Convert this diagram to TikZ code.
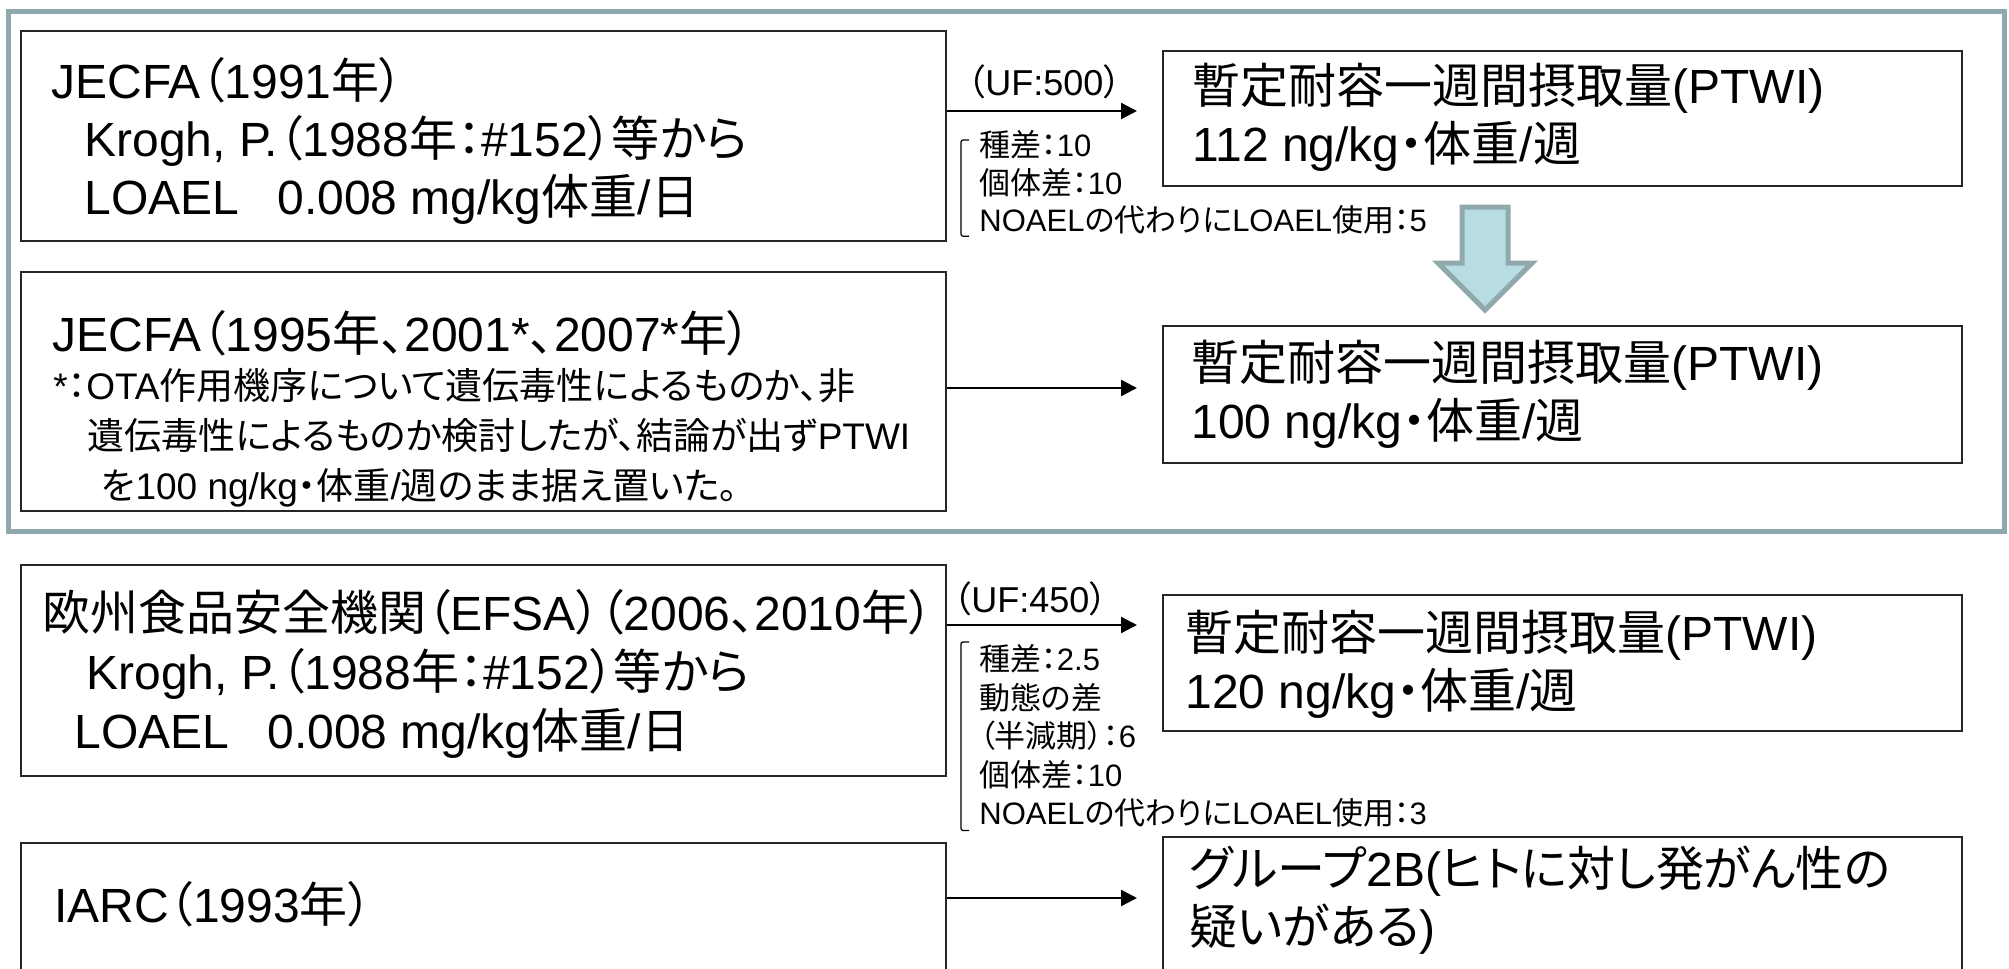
\documentclass[tikz,border=0pt]{standalone}
\usepackage{fontspec}
\setmainfont{Liberation Sans}
\newfontfamily\jpfont[RawFeature=+palt]{Noto Sans CJK JP}
% switch to the Japanese font for CJK characters
\XeTeXinterchartokenstate=1
\newXeTeXintercharclass\jpclass
\newcount\jpcode
\jpcode="3000
\loop\XeTeXcharclass\jpcode=\jpclass
\ifnum\jpcode<"9FFF \advance\jpcode by 1 \repeat
\jpcode="FF00
\loop\XeTeXcharclass\jpcode=\jpclass
\ifnum\jpcode<"FFEF \advance\jpcode by 1 \repeat
\XeTeXinterchartoks 0 \jpclass = {\jpfont}
\XeTeXinterchartoks 4095 \jpclass = {\jpfont}
\XeTeXinterchartoks \jpclass 0 = {\rmfamily}
\XeTeXinterchartoks \jpclass 4095 = {\rmfamily}
\usepackage{tikz}
\usetikzlibrary{arrows.meta,fit,positioning}
\definecolor{framegray}{RGB}{143,169,173}
\definecolor{arrowblue}{RGB}{183,221,226}

\begin{document}
\begin{tikzpicture}
        [
            x = 0.5pt, y = -0.5pt,
            box/.style = {draw = black!85, line width = 1pt, inner sep = 0pt},
            txt/.style = {anchor = north west, inner sep = 0pt, align = left,
                font = \fontsize{24pt}{29pt}\selectfont, execute at begin node = \strut},
            note/.style = {txt, font = \fontsize{18.5pt}{25pt}\selectfont},
            small/.style = {txt, font = \fontsize{15.5pt}{18.75pt}\selectfont},
            uf/.style = {anchor = base west, inner sep = 0pt, font = \fontsize{18pt}{20pt}\selectfont},
            flow/.style = {-{Triangle[length = 8pt, width = 8pt]}, line width = 1.2pt, shorten > = 12.5pt},
            brk/.style = {line width = 0.6pt, rounded corners = 1pt}
        ]
        \useasboundingbox (0,0) rectangle (2009,969);
        \clip (0,0) rectangle (2009,969);

        % JECFA frame
        \draw[framegray, line width = 2.5pt] (8,11) rectangle (2004,531);

        % left boxes
        \node[box, fit = {(21,31) (946,241)}] (jecfa1) {};
        \node[box, fit = {(21,272) (946,511)}] (jecfa2) {};
        \node[box, fit = {(21,565) (946,776)}] (efsa) {};
        \node[box, fit = {(21,843) (946,1000)}] (iarc) {};

        % right boxes
        \node[box, fit = {(1163,51) (1962,186)}] (ptwi1) {};
        \node[box, fit = {(1163,326) (1962,463)}] (ptwi2) {};
        \node[box, fit = {(1163,595) (1962,731)}] (ptwi3) {};
        \node[box, fit = {(1163,837) (1962,1000)}] (group) {};

        \node[txt, below right = 13.5pt and 15.5pt of jecfa1.north west] (jecfa1txt)
            {JECFA（1991年）\\
             \hspace*{16.5pt}Krogh, P.（1988年：\#152）等から\\
             \hspace*{16.5pt}LOAEL\hspace{0.8em}0.008 mg/kg体重/日};
        \node[txt, below right = 19.7pt and 16pt of jecfa2.north west] (jecfa2txt)
            {JECFA（1995年、2001*、2007*年）};
        \node[note, below right = 48.5pt and 16.5pt of jecfa2.north west] (jecfa2note)
            {*：OTA作用機序について遺伝毒性によるものか、非\\
             \hspace*{17pt}遺伝毒性によるものか検討したが、結論が出ずPTWI\\
             \hspace*{24pt}を100 ng/kg・体重/週のまま据え置いた。};
        \node[txt, font = \fontsize{24pt}{29.5pt}\selectfont,
              below right = 12.5pt and 11pt of efsa.north west] (efsatxt)
            {欧州食品安全機関（EFSA）（2006、2010年）\\
             \hspace*{22pt}Krogh, P.（1988年：\#152）等から\\
             \hspace*{16pt}LOAEL\hspace{0.8em}0.008 mg/kg体重/日};
        \node[txt, below right = 19.7pt and 17pt of iarc.north west] (iarctxt)
            {IARC（1993年）};

        \node[txt, below right = 6.2pt and 15pt of ptwi1.north west] (ptwi1txt)
            {暫定耐容一週間摂取量(PTWI)\\112 ng/kg・体重/週};
        \node[txt, below right = 7.2pt and 14.5pt of ptwi2.north west] (ptwi2txt)
            {暫定耐容一週間摂取量(PTWI)\\100 ng/kg・体重/週};
        \node[txt, below right = 7.7pt and 11.5pt of ptwi3.north west] (ptwi3txt)
            {暫定耐容一週間摂取量(PTWI)\\120 ng/kg・体重/週};
        \node[txt, below right = 4.7pt and 13.5pt of group.north west] (grouptxt)
            {グループ2B(ヒトに対し発がん性の\\疑いがある)};

        % connectors
        \coordinate (a1) at ([yshift = 12.5pt]jecfa1.east);
        \coordinate (a2) at ([yshift = 1.75pt]jecfa2.east);
        \coordinate (a3) at ([yshift = 22.75pt]efsa.east);
        \coordinate (a4) at ([yshift = 11.75pt]iarc.east);
        \draw[flow] (a1) -- (a1 -| ptwi1.west);
        \draw[flow] (a2) -- (a2 -| ptwi2.west);
        \draw[flow] (a3) -- (a3 -| ptwi3.west);
        \draw[flow] (a4) -- (a4 -| group.west);

        % uncertainty factors
        \node[uf] (uf1) at ([shift = {(10pt,8pt)}]a1) {（UF:500）};
        \node[uf] (uf2) at ([shift = {(3pt,6.5pt)}]a3) {（UF:450）};
        \node[small, anchor = north west] (uf1note) at ([shift = {(16pt,-9.5pt)}]a1)
            {種差：10\\個体差：10\\NOAELの代わりにLOAEL使用：5};
        \node[small, anchor = north west, font = \fontsize{15.5pt}{19.25pt}\selectfont]
            (uf2note) at ([shift = {(16pt,-9.5pt)}]a3)
            {種差：2.5\\動態の差\\（半減期）：6\\個体差：10\\NOAELの代わりにLOAEL使用：3};
        \draw[brk] ([shift = {(-5pt,-5pt)}]uf1note.north west) -- ++(-4pt,0)
            |- ([shift = {(-5pt,3.5pt)}]uf1note.south west);
        \draw[brk] ([shift = {(-5pt,1pt)}]uf2note.north west) -- ++(-4pt,0)
            |- ([shift = {(-5pt,3pt)}]uf2note.south west);

        % revision arrow
        \draw[draw = framegray, fill = arrowblue, line width = 2.5pt, line join = miter]
            (1462,207) -- (1508,207) -- (1508,263) -- (1532,263) -- (1485,310)
            -- (1438,263) -- (1462,263) -- cycle;
    \end{tikzpicture}
\end{document}
